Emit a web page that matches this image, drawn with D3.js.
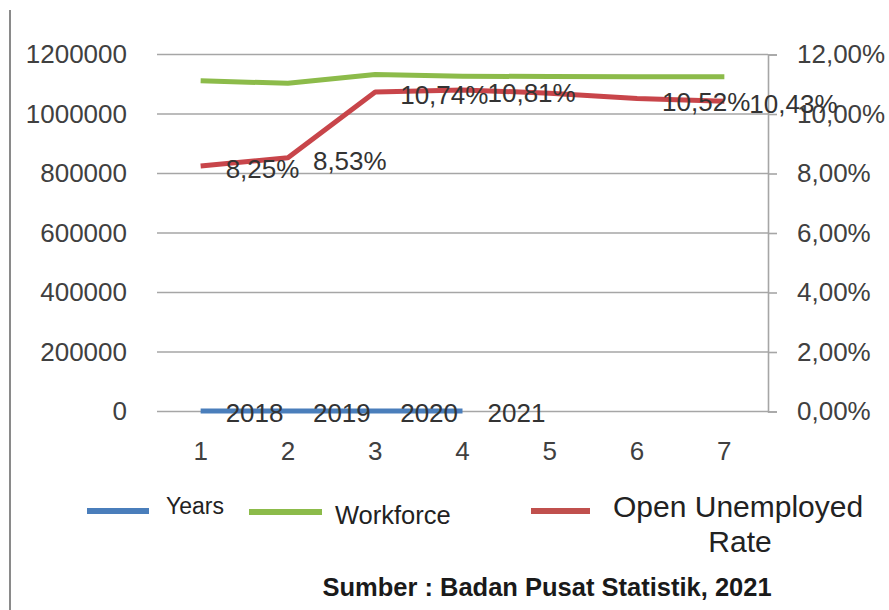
<!DOCTYPE html>
<html><head><meta charset="utf-8">
<script src="https://cdn.jsdelivr.net/npm/d3@7"></script>
<style>html,body{margin:0;padding:0;background:#fff;}svg{display:block;font-family:"Liberation Sans",Arial,sans-serif;}</style>
</head><body>
<script>
// ---- data ----
const categories = [1, 2, 3, 4, 5, 6, 7];
const years = [2018, 2019, 2020, 2021];
const workforce = [1112000, 1103000, 1133000, 1127000, 1126000, 1125000, 1125000];
const unemploymentRate = [8.25, 8.53, 10.74, 10.81, 10.70, 10.52, 10.43];
const rateLabels = ["8,25%", "8,53%", "10,74%", "10,81%", null, "10,52%", "10,43%"];
const leftTicks = [0, 200000, 400000, 600000, 800000, 1000000, 1200000];
const rightTicks = [0, 2, 4, 6, 8, 10, 12];
const legendItems = [
  {name: "Years", color: "#4a7ebb"},
  {name: "Workforce", color: "#8cbb4a"},
  {name: "Open Unemployed Rate", color: "#c0504d"}
];
const sourceText = "Sumber : Badan Pusat Statistik, 2021";

const W = 889, H = 610;
const svg = d3.select("body").append("svg").attr("width", W).attr("height", H);

// border line at left
svg.append("line").attr("x1", 10).attr("x2", 10).attr("y1", 10).attr("y2", H)
  .attr("stroke", "#8a8a8a").attr("stroke-width", 2);

const plotL = 157, plotR = 768, plotT = 54.5, plotB = 411.5;
const x = d3.scaleBand().domain(categories).range([plotL, plotR]).padding(0);
const cx = d => x(d) + x.bandwidth() / 2;
const yL = d3.scaleLinear().domain([0, 1200000]).range([plotB, plotT]);
const yR = d3.scaleLinear().domain([0, 12]).range([plotB, plotT]);

// gridlines
svg.append("g").selectAll("line").data(leftTicks).join("line")
  .attr("x1", plotL).attr("x2", plotR)
  .attr("y1", d => yL(d)).attr("y2", d => yL(d))
  .attr("stroke", "#a6a6a6").attr("stroke-width", 1.6);

// left axis labels
const gl = svg.append("g").attr("transform", `translate(${plotL - 30},0)`)
  .call(d3.axisLeft(yL).tickValues(leftTicks).tickSize(0).tickPadding(0).tickFormat(d => String(d)));
gl.select(".domain").remove();
gl.selectAll("text").attr("font-size", 26).attr("fill", "#404040").attr("font-family", "Liberation Sans, Arial, sans-serif");

// right axis
const gr = svg.append("g").attr("transform", `translate(${plotR},0)`)
  .call(d3.axisRight(yR).tickValues(rightTicks).tickSize(9).tickPadding(20)
    .tickFormat(d => d3.format(".2f")(d).replace(".", ",") + "%"));
gr.select(".domain").attr("stroke", "#a6a6a6").attr("stroke-width", 1.6);
gr.selectAll(".tick line").attr("stroke", "#a6a6a6").attr("stroke-width", 1.6);
gr.selectAll("text").attr("font-size", 26).attr("fill", "#404040").attr("font-family", "Liberation Sans, Arial, sans-serif");

// x axis labels
const gx = svg.append("g").attr("transform", `translate(0,${plotB})`)
  .call(d3.axisBottom(x).tickSize(0).tickPadding(30));
gx.select(".domain").remove();
gx.selectAll("text").attr("font-size", 26).attr("fill", "#404040").attr("font-family", "Liberation Sans, Arial, sans-serif");

// lines
const line = (ys) => d3.line().x((d, i) => cx(categories[i])).y(d => ys(d));
svg.append("path").datum(years).attr("d", line(yL))
  .attr("fill", "none").attr("stroke", "#4a7ebb").attr("stroke-width", 5).attr("stroke-linejoin", "round");
svg.append("path").datum(workforce).attr("d", line(yL))
  .attr("fill", "none").attr("stroke", "#8cbb4a").attr("stroke-width", 5).attr("stroke-linejoin", "round");
svg.append("path").datum(unemploymentRate).attr("d", line(yR))
  .attr("fill", "none").attr("stroke", "#c8454a").attr("stroke-width", 5).attr("stroke-linejoin", "round");

// data labels
svg.append("g").selectAll("text").data(years).join("text")
  .attr("x", (d, i) => cx(categories[i]) + 25).attr("y", d => yL(d) + 2)
  .attr("dominant-baseline", "central").attr("font-size", 26).attr("fill", "#333")
  .text(d => d);
svg.append("g").selectAll("text").data(unemploymentRate.map((v, i) => ({v, i, t: rateLabels[i]})).filter(d => d.t))
  .join("text")
  .attr("x", d => cx(categories[d.i]) + 25).attr("y", d => yR(d.v) + 3)
  .attr("dominant-baseline", "central").attr("font-size", 26).attr("fill", "#333")
  .text(d => d.t);

// legend
const lg = svg.append("g");
const legPos = [
  {x1: 87, x2: 149, ly: 511, tx: 166, ty: 506, fs: 23},
  {x1: 249, x2: 322, ly: 512, tx: 335, ty: 515, fs: 25.5},
  {x1: 531, x2: 590, ly: 511, tx: 613, ty: 506, fs: 30}
];
legendItems.forEach((it, i) => {
  const p = legPos[i];
  lg.append("line").attr("x1", p.x1).attr("x2", p.x2).attr("y1", p.ly).attr("y2", p.ly)
    .attr("stroke", it.color).attr("stroke-width", 6);
  if (i < 2) {
    lg.append("text").attr("x", p.tx).attr("y", p.ty).attr("dominant-baseline", "central")
      .attr("font-size", p.fs).attr("fill", "#222").text(it.name);
  } else {
    const words = it.name.split(" ");
    lg.append("text").attr("x", p.tx).attr("y", p.ty).attr("dominant-baseline", "central")
      .attr("font-size", p.fs).attr("fill", "#222").text(words.slice(0, 2).join(" "));
    lg.append("text").attr("x", 740).attr("y", 541).attr("dominant-baseline", "central")
      .attr("text-anchor", "middle").attr("font-size", p.fs).attr("fill", "#222").text(words[2]);
  }
});

svg.append("text").attr("x", 547).attr("y", 587).attr("text-anchor", "middle")
  .attr("dominant-baseline", "central").attr("font-size", 25.5).attr("font-weight", "bold")
  .attr("fill", "#1a1a1a").text(sourceText);
</script>
</body></html>
